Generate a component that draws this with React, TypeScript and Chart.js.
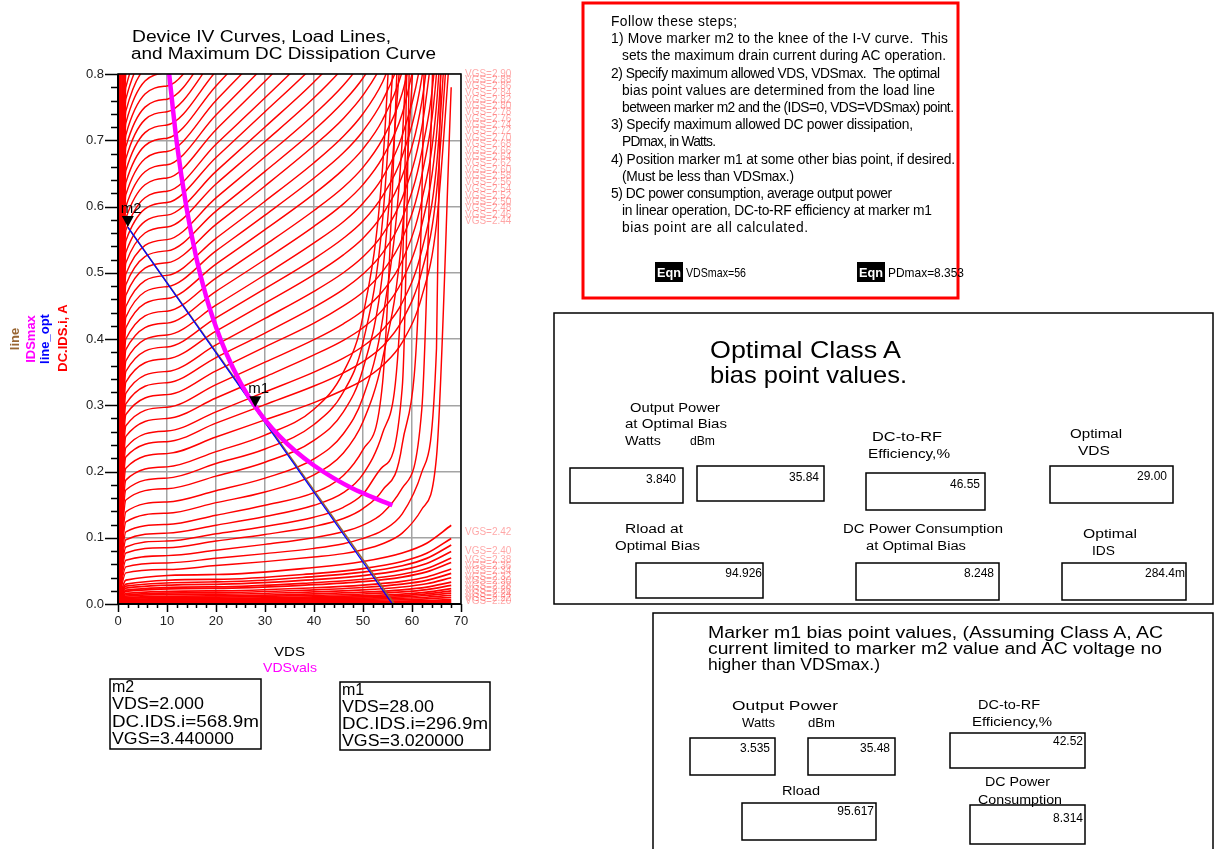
import React, { useEffect, useRef } from "react";
import { Chart, registerables } from "chart.js";

Chart.register(...registerables);

// ---------------- DATA ----------------
// VDS sweep points (V) used by the IV curves
const ivVds = [0, 1.6, 10, 20, 30, 40, 46, 50, 54, 58, 62, 65, 68];
const lowVds = [0, 1.6, 20, 40, 50, 58, 63, 68];
const steepVds = [0, 1.6];

// low-current IV curves (A), bottom of the family
const lowCurveIds = [
  [0, 0.0005, 0.0006, 0.0008, 0.0009, 0.0011, 0.0013, 0.0017],
  [0, 0.001, 0.0012, 0.0015, 0.0018, 0.0021, 0.0026, 0.0033],
  [0, 0.0015, 0.0019, 0.0023, 0.0027, 0.0032, 0.0038, 0.005],
  [0, 0.002, 0.0025, 0.0031, 0.0036, 0.0043, 0.0051, 0.0066],
  [0, 0.003, 0.0037, 0.0046, 0.0053, 0.0064, 0.0077, 0.0099],
  [0, 0.004, 0.0049, 0.0061, 0.0071, 0.0086, 0.0102, 0.0132],
  [0, 0.005, 0.0062, 0.0077, 0.0089, 0.0107, 0.0128, 0.0165],
  [0, 0.006, 0.0074, 0.0092, 0.0107, 0.0128, 0.0153, 0.0198],
  [0, 0.007, 0.0086, 0.0107, 0.0125, 0.015, 0.0179, 0.0231],
  [0, 0.0085, 0.0105, 0.013, 0.0151, 0.0182, 0.0217, 0.0281],
  [0, 0.01, 0.0124, 0.0153, 0.0178, 0.0214, 0.0255, 0.033],
  [0, 0.012, 0.0148, 0.0184, 0.0214, 0.0257, 0.0306, 0.0396],
  [0, 0.014, 0.0173, 0.0214, 0.0249, 0.03, 0.0357, 0.0462],
  [0, 0.016, 0.0198, 0.0245, 0.0285, 0.0342, 0.0408, 0.0528],
  [0, 0.019, 0.0235, 0.0291, 0.0338, 0.0407, 0.0485, 0.0627],
  [0, 0.021, 0.0259, 0.0321, 0.0374, 0.0449, 0.0536, 0.0693],
  [0, 0.024, 0.0296, 0.0367, 0.0427, 0.0514, 0.0612, 0.0792],
  [0, 0.027, 0.0333, 0.0413, 0.0481, 0.0578, 0.0689, 0.0891],
  [0, 0.03, 0.0371, 0.0459, 0.0534, 0.0642, 0.0765, 0.099],
  [0, 0.036, 0.0445, 0.0551, 0.0641, 0.077, 0.0918, 0.1188],
];

// curves that break down hard (near vertical) between 56 and 68 V
const breakdownCurveIds = [
  [0, 0.047, 0.052, 0.058, 0.064, 0.071, 0.076, 0.082, 0.091, 0.107, 0.143, 0.222, 0.78],
  [0, 0.056, 0.062, 0.069, 0.076, 0.084, 0.091, 0.099, 0.111, 0.136, 0.199, 0.386, 2.0],
  [0, 0.066, 0.073, 0.081, 0.09, 0.1, 0.109, 0.119, 0.137, 0.175, 0.294, 1.026],
  [0, 0.077, 0.085, 0.095, 0.105, 0.117, 0.129, 0.144, 0.172, 0.241, 0.603, 2.0],
  [0, 0.086, 0.095, 0.106, 0.117, 0.131, 0.146, 0.166, 0.207, 0.326, 2.4],
  [0, 0.097, 0.107, 0.119, 0.132, 0.149, 0.168, 0.196, 0.258, 0.498, 2.5],
  [0, 0.109, 0.12, 0.134, 0.149, 0.168, 0.194, 0.233, 0.334, 1.005],
  [0, 0.124, 0.137, 0.153, 0.169, 0.195, 0.228, 0.275, 0.37, 0.56, 1.05],
  [0, 0.139, 0.154, 0.171, 0.19, 0.219, 0.257, 0.312, 0.43, 0.7, 1.4],
  [0, 0.157, 0.174, 0.193, 0.214, 0.247, 0.29, 0.355, 0.5, 0.86],
  [0, 0.172, 0.19, 0.212, 0.234, 0.271, 0.32, 0.395, 0.58, 1.05],
  [0, 0.187, 0.207, 0.23, 0.255, 0.294, 0.35, 0.435, 0.66, 1.25],
];

// main IV family (A) on ivVds
const ivCurveIds = [
  [0, 0.205, 0.227, 0.252, 0.278, 0.304, 0.323, 0.338, 0.36, 0.395, 0.464, 0.574, 0.861],
  [0, 0.222, 0.245, 0.273, 0.301, 0.329, 0.349, 0.366, 0.389, 0.428, 0.502, 0.621, 0.933],
  [0, 0.236, 0.261, 0.29, 0.32, 0.35, 0.371, 0.389, 0.414, 0.455, 0.534, 0.661, 0.992],
  [0, 0.253, 0.28, 0.311, 0.343, 0.376, 0.398, 0.417, 0.444, 0.488, 0.572, 0.708, 1.063],
  [0, 0.269, 0.297, 0.331, 0.365, 0.399, 0.423, 0.443, 0.472, 0.518, 0.609, 0.753, 1.13],
  [0, 0.286, 0.316, 0.352, 0.388, 0.424, 0.45, 0.471, 0.502, 0.551, 0.647, 0.801, 1.202],
  [0, 0.302, 0.334, 0.372, 0.409, 0.448, 0.475, 0.498, 0.53, 0.582, 0.683, 0.845, 1.269],
  [0, 0.318, 0.351, 0.391, 0.431, 0.472, 0.5, 0.524, 0.558, 0.613, 0.719, 0.89],
  [0, 0.335, 0.37, 0.412, 0.454, 0.497, 0.527, 0.552, 0.588, 0.646, 0.758, 0.938],
  [0, 0.351, 0.388, 0.432, 0.476, 0.521, 0.552, 0.578, 0.616, 0.676, 0.794, 0.982],
  [0, 0.367, 0.406, 0.451, 0.497, 0.545, 0.577, 0.605, 0.644, 0.707, 0.83, 1.027],
  [0, 0.384, 0.424, 0.472, 0.52, 0.57, 0.604, 0.633, 0.674, 0.74, 0.869],
  [0, 0.4, 0.442, 0.492, 0.542, 0.594, 0.629, 0.659, 0.702, 0.771, 0.905],
  [0, 0.417, 0.461, 0.513, 0.565, 0.619, 0.656, 0.687, 0.731, 0.804, 0.943],
  [0, 0.433, 0.479, 0.533, 0.587, 0.643, 0.681, 0.714, 0.76, 0.834, 0.979],
  [0, 0.449, 0.496, 0.552, 0.608, 0.666, 0.706, 0.74, 0.788, 0.865],
  [0, 0.466, 0.515, 0.573, 0.631, 0.692, 0.733, 0.768, 0.817, 0.898],
  [0, 0.482, 0.533, 0.593, 0.653, 0.715, 0.758, 0.794, 0.845, 0.929],
  [0, 0.498, 0.55, 0.613, 0.675, 0.739, 0.783, 0.821, 0.874],
  [0, 0.515, 0.569, 0.634, 0.698, 0.764, 0.81, 0.849, 0.903],
  [0, 0.531, 0.587, 0.653, 0.72, 0.788, 0.835, 0.875],
  [0, 0.548, 0.606, 0.674, 0.743, 0.813, 0.862],
  [0, 0.564, 0.623, 0.694, 0.764, 0.837, 0.887],
  [0, 0.582, 0.643, 0.716, 0.789, 0.864],
  [0, 0.6, 0.663, 0.738, 0.813, 0.89],
  [0, 0.618, 0.683, 0.76, 0.837, 0.917],
  [0, 0.636, 0.703, 0.782, 0.862],
  [0, 0.654, 0.723, 0.804, 0.886],
  [0, 0.672, 0.743, 0.827, 0.911],
  [0, 0.69, 0.762, 0.849, 0.935],
  [0, 0.708, 0.782, 0.871],
  [0, 0.726, 0.802, 0.893],
  [0, 0.744, 0.822, 0.915],
  [0, 0.762, 0.842, 0.937],
  [0, 0.78, 0.862],
  [0, 0.8, 0.884],
  [0, 0.84, 0.928],
  [0, 0.88, 0.972],
  [0, 0.93, 1.028],
  [0, 1.0, 1.105],
];

// highest-VGS curves, whose knee lies above the plot
const steepCurveIds = [
  [0, 1.1], [0, 1.3], [0, 1.6], [0, 2.0], [0, 2.6], [0, 3.5], [0, 5.0], [0, 8.0],
];

// maximum DC dissipation curve IDSmax vs VDSvals
const idsMaxVds = [10.44, 12, 14, 16, 18, 20, 22, 25, 28, 30, 33, 36, 40, 44, 48, 52, 56];
const idsMaxIds = [0.8, 0.696, 0.597, 0.522, 0.464, 0.418, 0.38, 0.334, 0.298, 0.278, 0.253, 0.232, 0.209, 0.19, 0.174, 0.161, 0.149];

// load lines
const lineOptVds = [2, 56];
const lineOptIds = [0.5689, 0];
const lineVds = [2, 56.4];
const lineIds = [0.5689, 0];

// markers
const markerNames = ["m2", "m1"];
const markerVds = [2, 28];
const markerIds = [0.5689, 0.2969];

// curve end labels at the right of the plot
const topVgsLabels = [
  "VGS=2.90", "VGS=2.88", "VGS=2.86", "VGS=2.84", "VGS=2.82", "VGS=2.80", "VGS=2.78", "VGS=2.76",
  "VGS=2.74", "VGS=2.72", "VGS=2.70", "VGS=2.68", "VGS=2.66", "VGS=2.64", "VGS=2.62", "VGS=2.60",
  "VGS=2.58", "VGS=2.56", "VGS=2.54", "VGS=2.52", "VGS=2.50", "VGS=2.48", "VGS=2.46", "VGS=2.44",
];
const topVgsIds = [
  0.8, 0.79, 0.781, 0.771, 0.761, 0.752, 0.742, 0.732, 0.723, 0.713, 0.703, 0.694,
  0.684, 0.674, 0.665, 0.655, 0.645, 0.636, 0.626, 0.616, 0.607, 0.597, 0.587, 0.578,
];
const bottomVgsLabels = [
  "VGS=2.42", "VGS=2.40", "VGS=2.38", "VGS=2.36", "VGS=2.34", "VGS=2.32",
  "VGS=2.30", "VGS=2.28", "VGS=2.26", "VGS=2.24", "VGS=2.22", "VGS=2.20",
];
const bottomVgsIds = [0.108, 0.079, 0.066, 0.057, 0.049, 0.041, 0.034, 0.027, 0.021, 0.015, 0.009, 0.004];

// axes
const xMin = 0, xMax = 70, xStep = 10, xMinorStep = 2;
const yMin = 0, yMax = 0.8, yStep = 0.1, yMinorStep = 0.02;

// ---------------- CHART ----------------
const FONT = "Liberation Sans, Arial, sans-serif";

const toPoints = (xs: number[], ys: number[]) => ys.map((y, i) => ({ x: xs[i], y }));

const decorPlugin = {
  id: "decor",
  afterDatasetsDraw(chart: any) {
    const { ctx, chartArea: a, scales } = chart;
    const xs = scales.x, ys = scales.y;
    ctx.save();
    ctx.strokeStyle = "#000";
    ctx.lineWidth = 1.5;
    ctx.strokeRect(a.left, a.top, a.right - a.left, a.bottom - a.top);
    ctx.lineWidth = 2;
    ctx.beginPath();
    ctx.moveTo(a.left, a.top);
    ctx.lineTo(a.left, a.bottom);
    ctx.lineTo(a.right, a.bottom);
    ctx.stroke();
    ctx.lineWidth = 1.5;
    ctx.beginPath();
    const ny = Math.round((yMax - yMin) / yMinorStep);
    const perY = Math.round(yStep / yMinorStep);
    for (let i = 0; i <= ny; i++) {
      const py = Math.round(ys.getPixelForValue(yMin + i * yMinorStep)) + 0.5;
      const len = i % perY === 0 ? 13 : 7;
      ctx.moveTo(a.left - len, py);
      ctx.lineTo(a.left, py);
    }
    const nx = Math.round((xMax - xMin) / xMinorStep);
    const perX = Math.round(xStep / xMinorStep);
    for (let i = 0; i <= nx; i++) {
      const px = Math.round(xs.getPixelForValue(xMin + i * xMinorStep)) + 0.5;
      const len = i % perX === 0 ? 8 : 4;
      ctx.moveTo(px, a.bottom);
      ctx.lineTo(px, a.bottom + len);
    }
    ctx.stroke();
    ctx.fillStyle = "#000";
    ctx.font = `15px ${FONT}`;
    ctx.textBaseline = "alphabetic";
    markerNames.forEach((name, i) => {
      const px = xs.getPixelForValue(markerVds[i]);
      const py = ys.getPixelForValue(markerIds[i]);
      ctx.beginPath();
      ctx.moveTo(px - 6, py - 11);
      ctx.lineTo(px + 6, py - 11);
      ctx.lineTo(px, py);
      ctx.closePath();
      ctx.fill();
      ctx.fillText(name, px - 7, py - 14);
    });
    ctx.fillStyle = "rgba(255,0,0,0.35)";
    ctx.font = `10px ${FONT}`;
    ctx.textBaseline = "middle";
    topVgsLabels.forEach((s, i) => ctx.fillText(s, a.right + 4, ys.getPixelForValue(topVgsIds[i])));
    bottomVgsLabels.forEach((s, i) => ctx.fillText(s, a.right + 4, ys.getPixelForValue(bottomVgsIds[i])));
    ctx.restore();
  },
};

function IVChart() {
  const ref = useRef<HTMLCanvasElement>(null);
  useEffect(() => {
    if (!ref.current) return;
    const red = (xs: number[], ys: number[], w = 1.45) => ({
      data: toPoints(xs, ys),
      borderColor: "#ff0000",
      borderWidth: w,
      showLine: true,
      pointRadius: 0,
      cubicInterpolationMode: "monotone",
    });
    const datasets: any[] = [
      {
        label: "IDSmax",
        data: toPoints(idsMaxVds, idsMaxIds),
        borderColor: "#ff00ff",
        borderWidth: 4.5,
        showLine: true,
        pointRadius: 0,
        cubicInterpolationMode: "monotone",
      },
      {
        label: "line_opt",
        data: toPoints(lineOptVds, lineOptIds),
        borderColor: "#0000ff",
        borderWidth: 1.3,
        showLine: true,
        pointRadius: 0,
      },
      {
        label: "line",
        data: toPoints(lineVds, lineIds),
        borderColor: "#996633",
        borderWidth: 1.6,
        showLine: true,
        pointRadius: 0,
      },
      ...ivCurveIds.map((c) => red(ivVds, c)),
      ...breakdownCurveIds.map((c) => red(ivVds, c)),
      ...lowCurveIds.map((c) => red(lowVds, c, 1.7)),
      ...steepCurveIds.map((c) => red(steepVds, c)),
    ];
    const chart = new Chart(ref.current, {
      type: "scatter",
      data: { datasets },
      options: {
        animation: false,
        responsive: false,
        maintainAspectRatio: false,
        layout: { padding: { left: 0, top: 74, right: 99, bottom: 56 } },
        plugins: { legend: { display: false }, tooltip: { enabled: false } },
        scales: {
          x: {
            type: "linear",
            min: xMin,
            max: xMax,
            afterFit: (s: any) => {
              s.height = 40;
            },
            border: { display: false },
            grid: { color: "#a4a4a4", lineWidth: 1.5, drawTicks: false },
            ticks: {
              stepSize: xStep,
              padding: 10,
              autoSkip: false,
              maxRotation: 0,
              color: "#222",
              font: { family: FONT, size: 13 },
            },
          },
          y: {
            type: "linear",
            min: yMin,
            max: yMax,
            afterFit: (s: any) => {
              s.width = 118;
            },
            border: { display: false },
            grid: { color: "#a4a4a4", lineWidth: 1.5, drawTicks: false },
            ticks: {
              stepSize: yStep,
              padding: 14,
              autoSkip: false,
              color: "#222",
              font: { family: FONT, size: 13 },
              callback: (v: any) => Number(v).toFixed(1),
            },
          },
        },
      } as any,
      plugins: [decorPlugin],
    });
    return () => chart.destroy();
  }, []);
  return (
    <canvas
      ref={ref}
      width={560}
      height={700}
      style={{ position: "absolute", left: 0, top: 0, width: 560, height: 700 }}
    />
  );
}

// ---------------- TEXT OVERLAY ----------------
type TProps = {
  x: number; y: number; s: number; w?: number; c?: string; b?: boolean; end?: boolean; sp?: boolean; children: string;
};
const T = ({ x, y, s, w, c, b, end, sp, children }: TProps) => (
  <text
    x={x}
    y={y}
    fontSize={s}
    fill={c || "#000"}
    fontWeight={b ? "bold" : "normal"}
    textAnchor={end ? "end" : "start"}
    {...(w ? { textLength: w, lengthAdjust: sp ? "spacing" : "spacingAndGlyphs" } : {})}
    style={{ whiteSpace: "pre" }}
  >
    {children}
  </text>
);

const Box = ({ x1, y1, x2, y2, c, sw }: { x1: number; y1: number; x2: number; y2: number; c?: string; sw?: number }) => (
  <rect x={x1} y={y1} width={x2 - x1} height={y2 - y1} fill="none" stroke={c || "#000"} strokeWidth={sw || 1.5} />
);

const RotLabel = ({ x, y, s, c, children }: { x: number; y: number; s: number; c: string; children: string }) => (
  <text
    transform={`translate(${x},${y}) rotate(-90)`}
    fontSize={s}
    fill={c}
    fontWeight="bold"
    textAnchor="middle"
  >
    {children}
  </text>
);

const stepLines: [number, number, string][] = [
  [611, 737, "Follow these steps;"],
  [611, 948, "1) Move marker m2 to the knee of the I-V curve.  This"],
  [622, 946, "sets the maximum drain current during AC operation."],
  [611, 940, "2) Specify maximum allowed VDS, VDSmax.  The optimal"],
  [622, 935, "bias point values are determined from the load line"],
  [622, 954, "between marker m2 and the (IDS=0, VDS=VDSmax) point."],
  [611, 913, "3) Specify maximum allowed DC power dissipation,"],
  [622, 716, "PDmax, in Watts."],
  [611, 955, "4) Position marker m1 at some other bias point, if desired."],
  [622, 794, "(Must be less than VDSmax.)"],
  [611, 892, "5) DC power consumption, average output power"],
  [622, 932, "in linear operation, DC-to-RF efficiency at marker m1"],
  [622, 808, "bias point are all calculated."],
];

function Overlay() {
  return (
    <svg
      width={1215}
      height={849}
      style={{ position: "absolute", left: 0, top: 0, fontFamily: FONT, pointerEvents: "none" }}
    >
      <T x={132} y={42} s={16} w={259}>Device IV Curves, Load Lines,</T>
      <T x={131} y={59} s={16} w={305}>and Maximum DC Dissipation Curve</T>
      <RotLabel x={19} y={339} s={13} c="#996633">line</RotLabel>
      <RotLabel x={35} y={339} s={13} c="#ff00ff">IDSmax</RotLabel>
      <RotLabel x={49} y={339} s={13} c="#0000ff">line_opt</RotLabel>
      <RotLabel x={67} y={338} s={13} c="#ff0000">DC.IDS.i, A</RotLabel>
      <T x={274} y={656} s={13} w={31}>VDS</T>
      <T x={263} y={672} s={13} w={54} c="#ff00ff">VDSvals</T>

      <Box x1={110} y1={679} x2={261} y2={749} />
      <T x={112} y={692} s={16}>m2</T>
      <T x={112} y={709} s={16} w={92}>VDS=2.000</T>
      <T x={112} y={727} s={16} w={147}>DC.IDS.i=568.9m</T>
      <T x={112} y={744} s={16} w={122}>VGS=3.440000</T>
      <Box x1={340} y1={682} x2={490} y2={750} />
      <T x={342} y={695} s={16}>m1</T>
      <T x={342} y={712} s={16} w={92}>VDS=28.00</T>
      <T x={342} y={729} s={16} w={146}>DC.IDS.i=296.9m</T>
      <T x={342} y={746} s={16} w={122}>VGS=3.020000</T>

      <Box x1={583} y1={3} x2={958} y2={298} c="#ff0000" sw={3} />
      {stepLines.map(([x1, x2, s], i) => (
        <T key={i} x={x1} y={26 + i * 17.2} s={13.8} w={x2 - x1} sp>{s}</T>
      ))}
      <rect x={655} y={262} width={28} height={20} fill="#000" />
      <T x={657} y={277} s={12} w={24} c="#fff" b>Eqn</T>
      <T x={686} y={277} s={13} w={60}>VDSmax=56</T>
      <rect x={857} y={262} width={28} height={20} fill="#000" />
      <T x={859} y={277} s={12} w={24} c="#fff" b>Eqn</T>
      <T x={888} y={277} s={13} w={76}>PDmax=8.353</T>

      <Box x1={554} y1={313} x2={1213} y2={604} />
      <T x={710} y={358} s={24} w={191}>Optimal Class A</T>
      <T x={710} y={383} s={24} w={197}>bias point values.</T>
      <T x={630} y={412} s={12} w={90}>Output Power</T>
      <T x={625} y={428} s={12} w={102}>at Optimal Bias</T>
      <T x={625} y={445} s={12} w={36}>Watts</T>
      <T x={690} y={445} s={12} w={25}>dBm</T>
      <Box x1={570} y1={468} x2={683} y2={503} />
      <T x={676} y={483} s={12} end>3.840</T>
      <Box x1={697} y1={466} x2={824} y2={501} />
      <T x={819} y={481} s={12} end>35.84</T>
      <T x={872} y={441} s={12} w={70}>DC-to-RF</T>
      <T x={868} y={458} s={12} w={82}>Efficiency,%</T>
      <Box x1={866} y1={473} x2={985} y2={510} />
      <T x={980} y={488} s={12} end>46.55</T>
      <T x={1070} y={438} s={12} w={52}>Optimal</T>
      <T x={1078} y={455} s={12} w={32}>VDS</T>
      <Box x1={1050} y1={466} x2={1173} y2={503} />
      <T x={1167} y={480} s={12} end>29.00</T>
      <T x={625} y={533} s={12} w={58}>Rload at</T>
      <T x={615} y={550} s={12} w={85}>Optimal Bias</T>
      <Box x1={636} y1={563} x2={763} y2={598} />
      <T x={762} y={577} s={12} end>94.926</T>
      <T x={843} y={533} s={12} w={160}>DC Power Consumption</T>
      <T x={866} y={550} s={12} w={100}>at Optimal Bias</T>
      <Box x1={856} y1={563} x2={999} y2={600} />
      <T x={994} y={577} s={12} end>8.248</T>
      <T x={1083} y={538} s={12} w={54}>Optimal</T>
      <T x={1092} y={555} s={12} w={23}>IDS</T>
      <Box x1={1062} y1={563} x2={1186} y2={600} />
      <T x={1185} y={577} s={12} end>284.4m</T>

      <Box x1={653} y1={613} x2={1213} y2={852} />
      <T x={708} y={638} s={16} w={455}>Marker m1 bias point values, (Assuming Class A, AC</T>
      <T x={708} y={654} s={16} w={454}>current limited to marker m2 value and AC voltage no</T>
      <T x={708} y={670} s={16} w={172}>higher than VDSmax.)</T>
      <T x={732} y={710} s={12} w={106}>Output Power</T>
      <T x={742} y={727} s={12} w={33}>Watts</T>
      <T x={808} y={727} s={12} w={27}>dBm</T>
      <Box x1={690} y1={738} x2={775} y2={775} />
      <T x={770} y={752} s={12} end>3.535</T>
      <Box x1={808} y1={738} x2={895} y2={775} />
      <T x={890} y={752} s={12} end>35.48</T>
      <T x={978} y={709} s={12} w={62}>DC-to-RF</T>
      <T x={972} y={726} s={12} w={80}>Efficiency,%</T>
      <Box x1={950} y1={733} x2={1085} y2={768} />
      <T x={1083} y={745} s={12} end>42.52</T>
      <T x={782} y={795} s={12} w={38}>Rload</T>
      <Box x1={742} y1={803} x2={876} y2={840} />
      <T x={874} y={815} s={12} end>95.617</T>
      <T x={985} y={786} s={12} w={65}>DC Power</T>
      <T x={978} y={804} s={12} w={84}>Consumption</T>
      <Box x1={970} y1={805} x2={1085} y2={844} />
      <T x={1083} y={822} s={12} end>8.314</T>
    </svg>
  );
}

export default function App() {
  return (
    <div
      style={{
        position: "absolute",
        left: 0,
        top: 0,
        width: 1215,
        height: 849,
        background: "#fff",
        overflow: "hidden",
      }}
    >
      <IVChart />
      <Overlay />
    </div>
  );
}
